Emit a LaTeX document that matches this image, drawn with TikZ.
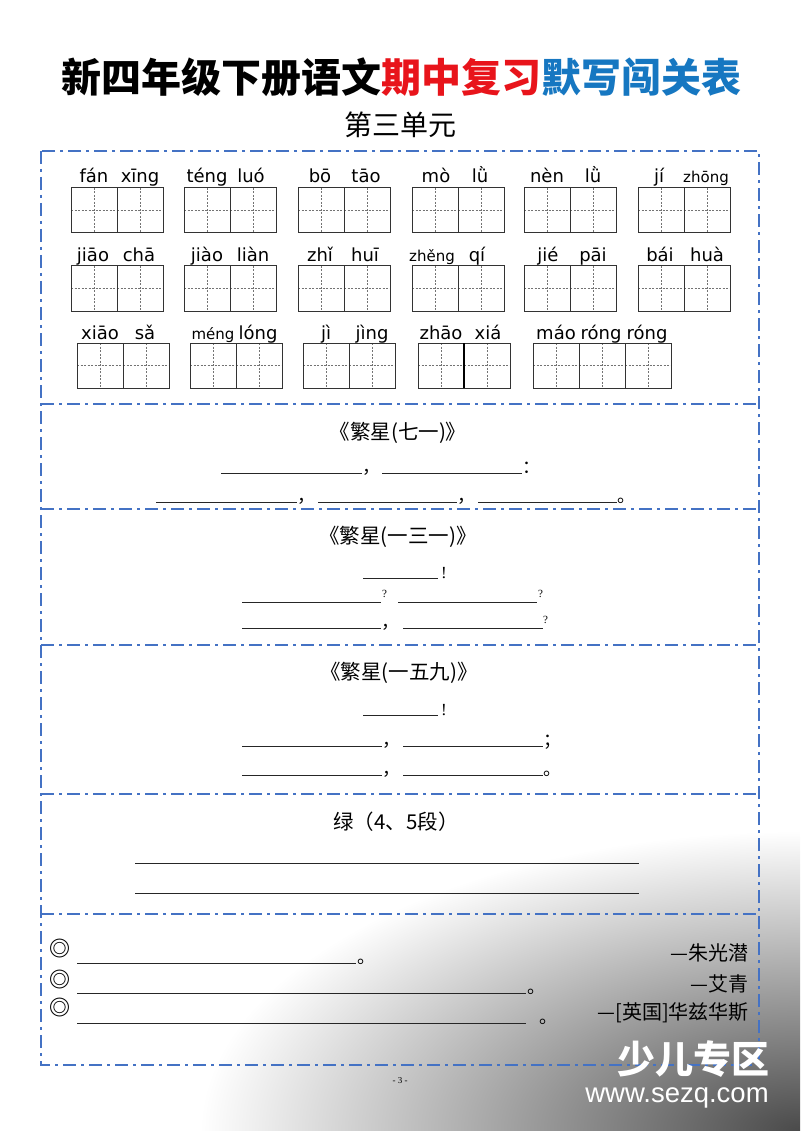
\documentclass[tikz,border=0pt]{standalone}
\usepackage{fontspec}
\newfontfamily\cjk{Noto Sans CJK SC}
\newfontfamily\py{DejaVu Sans}
\newfontfamily\lib{Liberation Sans}
\newfontfamily\libs{Liberation Serif}
\definecolor{frameblue}{HTML}{4472C4}
\definecolor{tred}{HTML}{E8141B}
\definecolor{tblue}{HTML}{1677C1}
\definecolor{wmdark}{HTML}{4A4A4A}
\pgfdeclareradialshading{wmshade}{\pgfpoint{0bp}{0bp}}{color(0bp)=(wmdark); color(25bp)=(white); color(50bp)=(white)}
\newcommand{\tgrid}[3]{%
  \foreach \k in {1,...,#3}{%
    \draw[gridl] ({#1+46*\k-23},#2) -- ({#1+46*\k-23},{#2+45});
    \draw[gridl] ({#1+46*\k-46},{#2+22.5}) -- ({#1+46*\k},{#2+22.5});
  }%
  \foreach \k in {1,...,#3}{\draw[boxl] ({#1+46*\k-46},#2) rectangle ({#1+46*\k},{#2+45});}%
}
\begin{document}
\begin{tikzpicture}[x=1pt,y=-1pt,
  boxframe/.style={draw=frameblue, line width=1.4pt, dash pattern=on 13pt off 5pt on 3pt off 5pt},
  boxl/.style={draw=black!80, line width=1pt},
  gridl/.style={draw=black!55, line width=0.5pt, dash pattern=on 2pt off 1.5pt},
  blank/.style={draw=black!85, line width=1pt},
  py/.style={font=\py\fontsize{18}{18}\selectfont, anchor=base, inner sep=0pt},
  pys/.style={font=\py\fontsize{15}{15}\selectfont, anchor=base, inner sep=0pt},
  ptitle/.style={font=\cjk\fontsize{20.5}{20.5}\selectfont, inner sep=0pt},
  punc/.style={font=\cjk\fontsize{18}{18}\selectfont, anchor=base west, inner sep=0pt},
  qsm/.style={font=\libs\fontsize{11}{11}\selectfont, anchor=base west, inner sep=0pt},
  excl/.style={font=\libs\fontsize{17}{17}\selectfont, anchor=base west, inner sep=0pt},
  bmark/.style={font=\cjk\bfseries\fontsize{21}{21}\selectfont, inner sep=0pt},
  author/.style={font=\cjk\fontsize{20}{20}\selectfont, anchor=east, inner sep=0pt}
]
\useasboundingbox (0,0) rectangle (800,1131);
\fill[white] (0,0) rectangle (800,1131);
\begin{scope}
  \clip (0,0) rectangle (800,1131);
  \shade[shading=wmshade] (800,1131) ellipse [x radius=600pt, y radius=300pt];
\end{scope}

% titles
\node[font=\cjk\bfseries\fontsize{40}{40}\selectfont, inner sep=0pt] (title) at (401,77)
  {新四年级下册语文\textcolor{tred}{期中复习}\textcolor{tblue}{默写闯关表}};
\node[font=\cjk\fontsize{28}{28}\selectfont, inner sep=0pt] (sub) at (400,125) {第三单元};

% frame
\draw[boxframe] (41,151) rectangle (759,1065);
\foreach \yy in {404,509,645,794,914} \draw[boxframe] (41,\yy) -- (759,\yy);

% pinyin grids
\foreach \xx in {71,184,298,412,524,638} {\tgrid{\xx}{188}{2} \tgrid{\xx}{266}{2}}
\foreach \xx in {77,190,303,418} {\tgrid{\xx}{343}{2}}
\tgrid{533}{343}{3}
\draw[black, line width=2.2pt] (464,343) -- (464,388);

% pinyin row 1
\foreach \xx/\tt [count=\i] in {94/fán,140/xīng,207/téng,251/luó,320/bō,366/tāo,436/mò,480/lǜ,547/nèn,593/lǜ,659/jí}
  \node[py] (pa\i) at (\xx,183) {\tt};
\node[pys] (pa12) at (706,183) {zhōng};
% row 2
\foreach \xx/\tt [count=\i] in {93/jiāo,139/chā,207/jiào,253/liàn,320/zhǐ,365/huī,477/qí,548/jié,593/pāi,660/bái,707/huà}
  \node[py] (pb\i) at (\xx,262) {\tt};
\node[pys] (pb12) at (432,262) {zhěng};
% row 3
\foreach \xx/\tt [count=\i] in {100/xiāo,145/sǎ,258/lóng,326/jì,372/jìng,441/zhāo,488/xiá,556/máo,601/róng,647/róng}
  \node[py] (pc\i) at (\xx,339) {\tt};
\node[pys] (pc11) at (213,339) {méng};

% section 2
\node[ptitle] (t2) at (398,433) {《繁星(七一)》};
\draw[blank] (221,473) -- (362,473); \node[punc] (s2a) at (362,473) {，};
\draw[blank] (382,473) -- (522,473); \node[punc] (s2b) at (522,473) {：};
\draw[blank] (156,502) -- (297,502); \node[punc] (s2c) at (297,502) {，};
\draw[blank] (318,502) -- (457,502); \node[punc] (s2d) at (457,502) {，};
\draw[blank] (478,502) -- (617,502); \node[punc] (s2e) at (617,502) {。};

% section 3
\node[ptitle] (t3) at (398,537) {《繁星(一三一)》};
\draw[blank] (363,578) -- (438,578); \node[excl] (s3a) at (441,578) {!};
\draw[blank] (242,602) -- (381,602); \node[qsm] (s3b) at (382,597) {?};
\draw[blank] (398,602) -- (537,602); \node[qsm] (s3c) at (538,597) {?};
\draw[blank] (242,628) -- (381,628); \node[punc] (s3d) at (381,628) {，};
\draw[blank] (403,628) -- (543,628); \node[qsm] (s3e) at (543,623) {?};

% section 4
\node[ptitle] (t4) at (399,673) {《繁星(一五九)》};
\draw[blank] (363,715) -- (438,715); \node[excl] (s4a) at (441,715) {!};
\draw[blank] (242,746) -- (382,746); \node[punc] (s4b) at (382,746) {，};
\draw[blank] (403,746) -- (543,746); \node[punc] (s4c) at (543,746) {；};
\draw[blank] (242,775) -- (382,775); \node[punc] (s4d) at (382,775) {，};
\draw[blank] (403,775) -- (543,775); \node[punc] (s4e) at (543,775) {。};

% section 5
\node[ptitle] (t5) at (396,822) {绿（4、5段）};
\draw[blank] (135,863) -- (639,863);
\draw[blank] (135,893) -- (639,893);

% section 6
\node[bmark] (m1) at (59.5,949) {◎};
\node[bmark] (m2) at (59.5,980) {◎};
\node[bmark] (m3) at (59.5,1008) {◎};
\draw[blank] (77,963) -- (356,963); \node[punc] (s6a) at (357,963) {。};
\draw[blank] (77,993) -- (526,993); \node[punc] (s6b) at (527,993) {。};
\draw[blank] (77,1023) -- (526,1023); \node[punc] (s6c) at (539,1023) {。};
\node[author] (a1) at (749,953) {—朱光潜};
\node[author] (a2) at (749,984) {—艾青};
\node[author] (a3) at (749,1013) {—[英国]华兹华斯};

% page number
\node[font=\libs\fontsize{9}{9}\selectfont, inner sep=0pt] (pg) at (400,1081) {- 3 -};

% watermark
\node[font=\cjk\bfseries\fontsize{38}{38}\selectfont, text=white, inner sep=0pt] (wm1) at (693,1059) {少儿专区};
\node[font=\lib\fontsize{27.5}{27.5}\selectfont, text=white, anchor=base, inner sep=0pt] (wm2) at (677,1102) {www.sezq.com};
\end{tikzpicture}
\end{document}
